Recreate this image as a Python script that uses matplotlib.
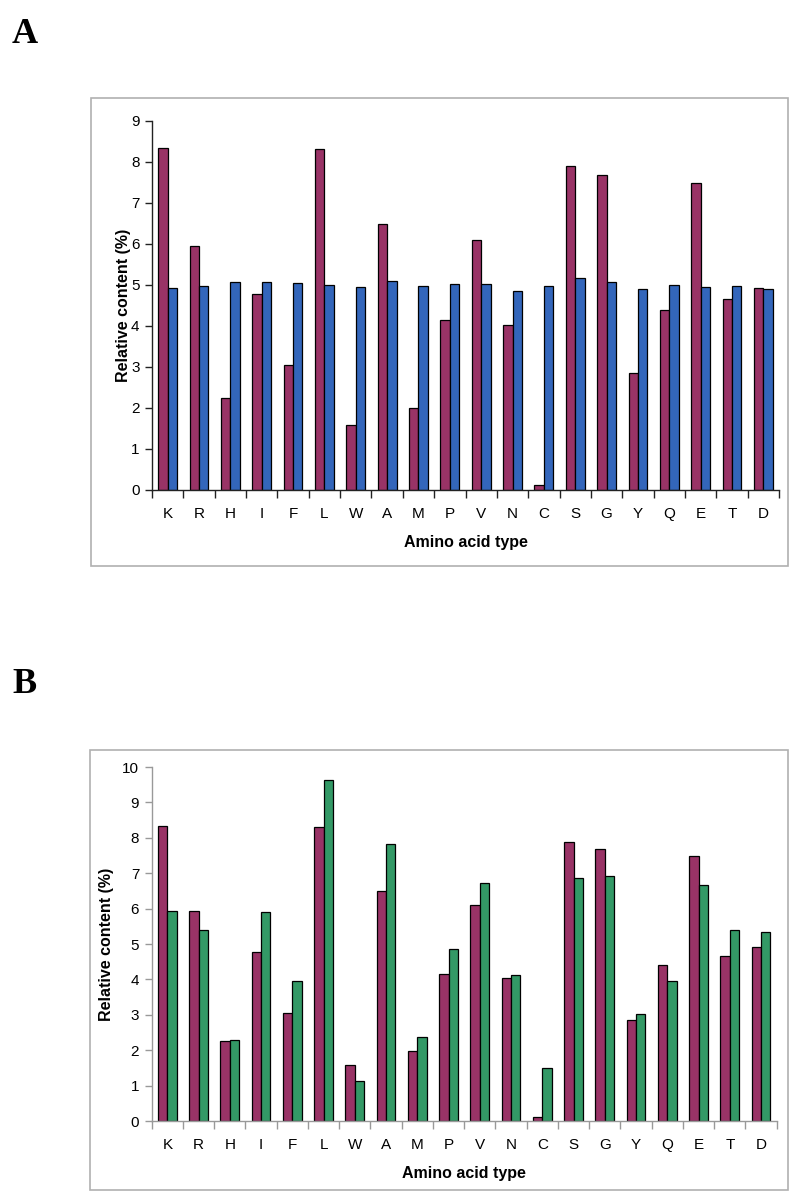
import numpy as np
import matplotlib
matplotlib.use("Agg")
from matplotlib import pyplot as plt
from matplotlib.patches import Rectangle

# amino acid types along the x axis
amino_acids = ['K', 'R', 'H', 'I', 'F', 'L', 'W', 'A', 'M', 'P',
               'V', 'N', 'C', 'S', 'G', 'Y', 'Q', 'E', 'T', 'D']

# relative content (%)
maroon_vals = [8.34, 5.94, 2.25, 4.78, 3.06, 8.31, 1.59, 6.49, 1.99, 4.15,
               6.10, 4.03, 0.12, 7.89, 7.68, 2.86, 4.40, 7.48, 4.65, 4.93]
blue_vals = [4.93, 4.98, 5.07, 5.07, 5.05, 5.00, 4.95, 5.10, 4.98, 5.02,
             5.02, 4.85, 4.98, 5.17, 5.07, 4.89, 5.00, 4.95, 4.98, 4.90]
green_vals = [5.93, 5.41, 2.29, 5.90, 3.95, 9.64, 1.12, 7.84, 2.38, 4.86,
              6.73, 4.12, 1.49, 6.87, 6.93, 3.01, 3.95, 6.68, 5.39, 5.33]

MAROON = '#993366'
BLUE = '#3366BB'
GREEN = '#339966'

plt.rcParams['font.family'] = ['Liberation Sans', 'DejaVu Sans']

fig = plt.figure(figsize=(8.06, 12), dpi=100)


def panel(rect, second, color2, ymax, axis_color, box, ylabpad):
    # grey frame around the chart
    fig.patches.append(Rectangle((box[0], box[1]), box[2], box[3],
                                 transform=fig.transFigure, fill=False,
                                 edgecolor='#b0b0b0', lw=1.2))
    ax = fig.add_axes(rect)
    x = np.arange(len(amino_acids))
    w = 0.30
    ax.bar(x - w / 2, maroon_vals, width=w, color=MAROON,
           edgecolor='black', linewidth=0.9)
    ax.bar(x + w / 2, second, width=w, color=color2,
           edgecolor='black', linewidth=0.9)
    ax.set_xlim(-0.5, len(amino_acids) - 0.5)
    ax.set_ylim(0, ymax)
    ax.set_yticks(range(0, ymax + 1))
    ax.tick_params(axis='y', labelsize=11, length=5, width=1,
                   color=axis_color, pad=4)
    # ticks between categories, labels centred under them
    ax.set_xticks(np.arange(-0.5, len(amino_acids)), labels=[''] * (len(amino_acids) + 1))
    ax.set_xticks(x, labels=amino_acids, minor=True)
    ax.tick_params(axis='x', which='major', length=6, width=1, color=axis_color)
    ax.tick_params(axis='x', which='minor', length=0, labelsize=11, pad=12)
    for s in ['top', 'right']:
        ax.spines[s].set_visible(False)
    for s in ['left', 'bottom']:
        ax.spines[s].set_color(axis_color)
        ax.spines[s].set_linewidth(1)
    ax.set_xlabel('Amino acid type', fontsize=11.5, fontweight='bold', labelpad=10)
    ax.set_ylabel('Relative content (%)', fontsize=11.5, fontweight='bold',
                  labelpad=ylabpad)
    return ax


panel([0.1886, 0.5917, 0.7779, 0.3075], blue_vals, BLUE, 9, '#222222',
      (0.1123, 0.5283, 0.8654, 0.39), 0)
panel([0.1882, 0.0658, 0.7755, 0.2950], green_vals, GREEN, 10, '#999999',
      (0.1117, 0.0083, 0.8660, 0.3667), 6)

fig.text(0.0149, 0.9642, 'A', fontsize=26, fontweight='bold',
         family=['Liberation Serif', 'DejaVu Serif'], va='baseline')
fig.text(0.0149, 0.4225, 'B', fontsize=26, fontweight='bold',
         family=['Liberation Serif', 'DejaVu Serif'], va='baseline')

fig.savefig('out.png', dpi=100)
